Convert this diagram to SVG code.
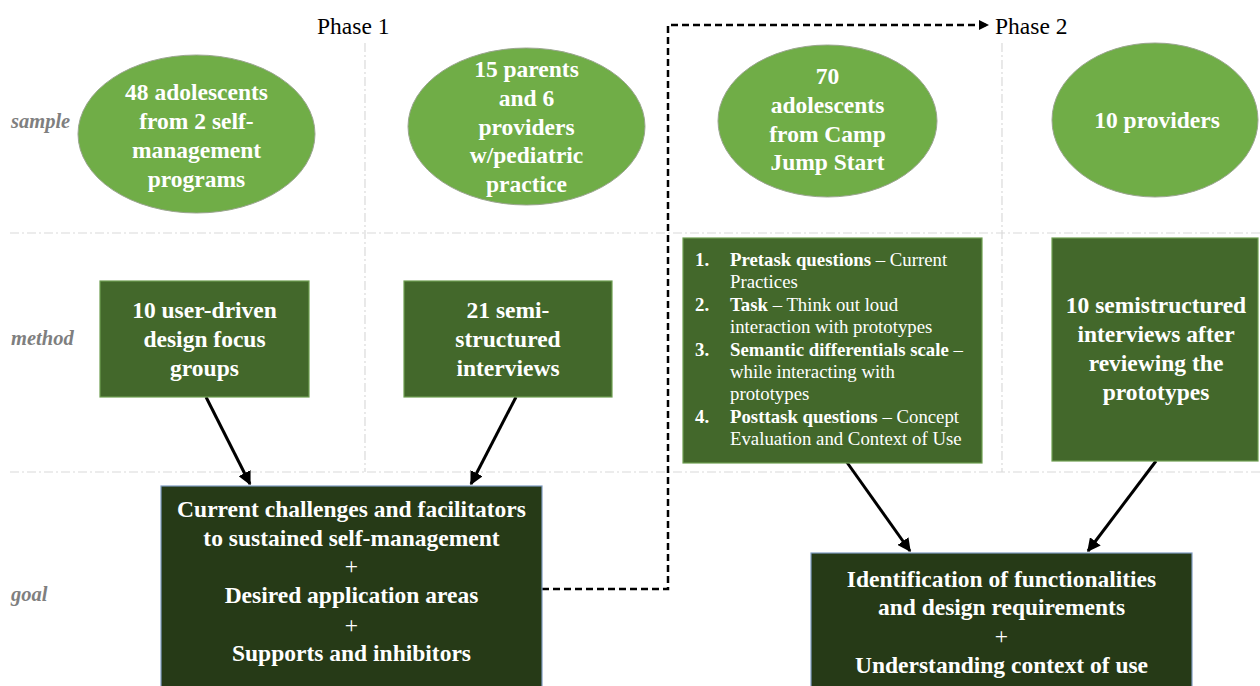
<svg xmlns="http://www.w3.org/2000/svg" width="1260" height="686" viewBox="0 0 1260 686">
<defs>
<style>
.grid{stroke:#DADADA;stroke-width:1.2;stroke-dasharray:9 3 2 3;fill:none}
.ell{fill:#70AD47;stroke:#9AA58F;stroke-width:1}
.mbox{fill:#43682B;stroke:#6E9E50;stroke-width:1.2}
.gbox{fill:#263A17;stroke:#7F9CC2;stroke-width:1.2}
.t{font-family:"Liberation Serif","Times New Roman",serif;font-weight:bold;font-size:23.5px;fill:#FFFFFF;text-anchor:middle}
.plus{font-weight:normal}
.lst{font-family:"Liberation Serif","Times New Roman",serif;font-size:18.8px;fill:#FFFFFF}
.b{font-weight:bold}
.row{font-family:"Liberation Serif","Times New Roman",serif;font-style:italic;font-weight:bold;font-size:20.5px;fill:#7F7F7F}
.phase{font-family:"Liberation Serif","Times New Roman",serif;font-size:23.5px;fill:#000000}
.arr{stroke:#000;stroke-width:3;fill:none;marker-end:url(#ah)}
.dash{stroke:#000;stroke-width:2.5;fill:none;stroke-dasharray:7 4;marker-end:url(#ahs)}
</style>
<marker id="ah" viewBox="0 0 10 10" refX="9" refY="5" markerWidth="4.5" markerHeight="4.5" markerUnits="strokeWidth" orient="auto"><path d="M0,0 L10,5 L0,10 z" fill="#000"/></marker>
<marker id="ahs" viewBox="0 0 10 10" refX="9" refY="5" markerWidth="4" markerHeight="4" markerUnits="strokeWidth" orient="auto"><path d="M0,0 L10,5 L0,10 z" fill="#000"/></marker>
</defs>
<rect width="1260" height="686" fill="#FFFFFF"/>
<g id="grid">
<line class="grid" x1="10" y1="233" x2="1260" y2="233"/>
<line class="grid" x1="10" y1="472" x2="1260" y2="472"/>
<line class="grid" x1="365" y1="43" x2="365" y2="472"/>
<line class="grid" x1="1002" y1="43" x2="1002" y2="472"/>
</g>
<g id="labels">
<text class="phase" x="317" y="34">Phase 1</text>
<text class="phase" x="995" y="34">Phase 2</text>
<text class="row" x="11" y="128">sample</text>
<text class="row" x="11" y="345">method</text>
<text class="row" x="11" y="601">goal</text>
</g>
<g id="connectors">
<line class="arr" x1="206" y1="397" x2="250" y2="484"/>
<line class="arr" x1="516" y1="397" x2="471" y2="484"/>
<line class="arr" x1="846" y1="461" x2="910" y2="551"/>
<line class="arr" x1="1156" y1="461" x2="1088" y2="551"/>
<path class="dash" d="M542,589 H668 V25 H988"/>
</g>
<g id="sample1">
<ellipse class="ell" cx="196.5" cy="134" rx="118.5" ry="79"/>
<text class="t" x="196.5" y="100">48 adolescents</text>
<text class="t" x="196.5" y="129">from 2 self-</text>
<text class="t" x="196.5" y="158">management</text>
<text class="t" x="196.5" y="187">programs</text>
</g>
<g id="sample2">
<ellipse class="ell" cx="526.5" cy="126.5" rx="118.5" ry="78.5"/>
<text class="t" x="526.5" y="77">15 parents</text>
<text class="t" x="526.5" y="106">and 6</text>
<text class="t" x="526.5" y="135">providers</text>
<text class="t" x="526.5" y="163">w/pediatric</text>
<text class="t" x="526.5" y="192">practice</text>
</g>
<g id="sample3">
<ellipse class="ell" cx="827.5" cy="121" rx="109.5" ry="76"/>
<text class="t" x="827.5" y="84">70</text>
<text class="t" x="827.5" y="113">adolescents</text>
<text class="t" x="827.5" y="142">from Camp</text>
<text class="t" x="827.5" y="170">Jump Start</text>
</g>
<g id="sample4">
<ellipse class="ell" cx="1155" cy="120" rx="103" ry="77"/>
<text class="t" x="1157" y="128">10 providers</text>
</g>
<g id="method1">
<rect class="mbox" x="100" y="281" width="209" height="116"/>
<text class="t" x="204.5" y="318">10 user-driven</text>
<text class="t" x="204.5" y="347">design focus</text>
<text class="t" x="204.5" y="376">groups</text>
</g>
<g id="method2">
<rect class="mbox" x="404" y="281" width="208" height="116"/>
<text class="t" x="508" y="318">21 semi-</text>
<text class="t" x="508" y="347">structured</text>
<text class="t" x="508" y="376">interviews</text>
</g>
<g id="method3">
<rect class="mbox" x="683" y="238" width="299" height="225"/>
<text class="lst b" x="695" y="266">1.</text>
<text class="lst" x="730" y="266"><tspan class="b">Pretask questions</tspan> – Current</text>
<text class="lst" x="730" y="288">Practices</text>
<text class="lst b" x="695" y="311">2.</text>
<text class="lst" x="730" y="311"><tspan class="b">Task</tspan> – Think out loud</text>
<text class="lst" x="730" y="333">interaction with prototypes</text>
<text class="lst b" x="695" y="356">3.</text>
<text class="lst" x="730" y="356"><tspan class="b">Semantic differentials scale</tspan> –</text>
<text class="lst" x="730" y="378">while interacting with</text>
<text class="lst" x="730" y="400">prototypes</text>
<text class="lst b" x="695" y="423">4.</text>
<text class="lst" x="730" y="423"><tspan class="b">Posttask questions</tspan> – Concept</text>
<text class="lst" x="730" y="445">Evaluation and Context of Use</text>
</g>
<g id="method4">
<rect class="mbox" x="1052" y="238" width="206" height="223"/>
<text class="t" x="1156" y="313">10 semistructured</text>
<text class="t" x="1156" y="342">interviews after</text>
<text class="t" x="1156" y="371">reviewing the</text>
<text class="t" x="1156" y="400">prototypes</text>
</g>
<g id="goal1">
<rect class="gbox" x="161" y="486" width="381" height="210"/>
<text class="t" x="351.5" y="517">Current challenges and facilitators</text>
<text class="t" x="351.5" y="546">to sustained self-management</text>
<text class="t plus" x="351.5" y="574">+</text>
<text class="t" x="351.5" y="603">Desired application areas</text>
<text class="t plus" x="351.5" y="633">+</text>
<text class="t" x="351.5" y="661">Supports and inhibitors</text>
</g>
<g id="goal2">
<rect class="gbox" x="811" y="553" width="381" height="143"/>
<text class="t" x="1001.5" y="587">Identification of functionalities</text>
<text class="t" x="1001.5" y="615">and design requirements</text>
<text class="t plus" x="1001.5" y="644">+</text>
<text class="t" x="1001.5" y="673">Understanding context of use</text>
</g>
</svg>
